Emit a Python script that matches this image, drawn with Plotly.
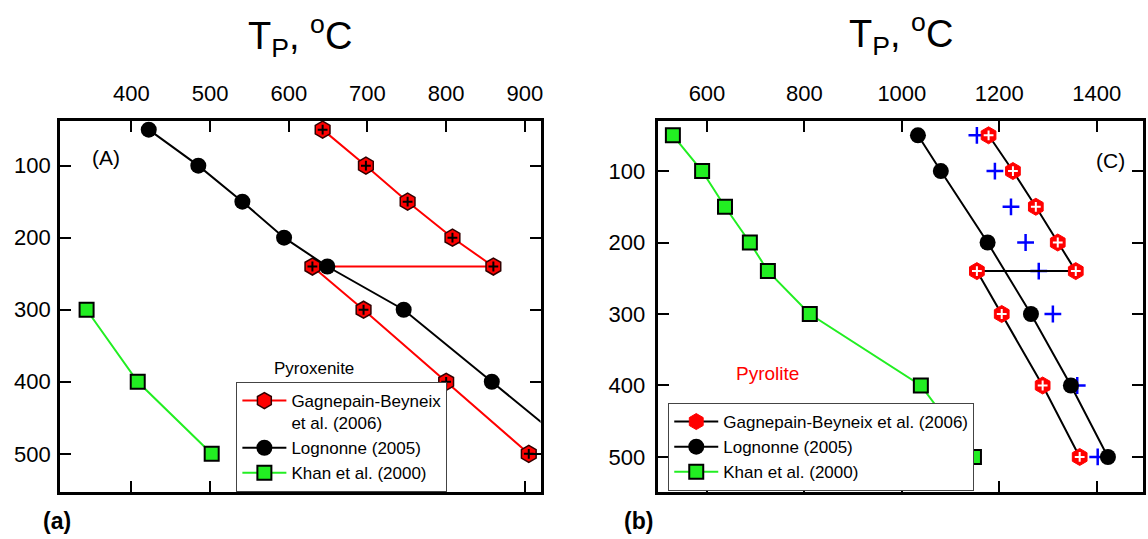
import plotly.graph_objects as go

# ---------------- data (panel a: Pyroxenite) ----------------
depth_gb_a = [50, 100, 150, 200, 240, 240, 300, 400, 500]
temp_gb_a = [643, 698, 751, 808, 860, 630, 695, 800, 905]
depth_lo_a = [50, 100, 150, 200, 240, 300, 400, 500]
temp_lo_a = [422, 485, 541, 594, 649, 746, 858, 970]
depth_kh_a = [300, 400, 500]
temp_kh_a = [343, 408, 502]

# ---------------- data (panel b: Pyrolite) ----------------
depth_gb_b = [50, 100, 150, 200, 240, 240, 300, 400, 500]
temp_gb_b = [1178, 1228, 1275, 1320, 1357, 1154, 1205, 1289, 1365]
depth_lo_b = [50, 100, 200, 300, 400, 500]
temp_lo_b = [1033, 1080, 1176, 1265, 1347, 1423]
depth_kh_b = [50, 100, 150, 200, 240, 300, 400, 500]
temp_kh_b = [530, 590, 637, 688, 725, 811, 1039, 1148]
depth_plus_b = [50, 100, 150, 200, 240, 300, 400, 500]
temp_plus_b = [1154, 1191, 1224, 1254, 1281, 1310, 1360, 1402]

xticks_a = [400, 500, 600, 700, 800, 900]
xticks_b = [600, 800, 1000, 1200, 1400]
yticks = [100, 200, 300, 400, 500]

name_gb_a = "Gagnepain-Beyneix<br>et al. (2006)"
name_gb_b = "Gagnepain-Beyneix et al. (2006)"
name_lo = "Lognonne (2005)"
name_kh = "Khan et al. (2000)"

RED = "#ff0000"
GREEN = "#22ee22"
FONT = "Arial, Liberation Sans, sans-serif"

W, H = 1148, 539
def px(x):
    return x / W
def py(y):
    return 1 - y / H

fig = go.Figure()

# ---- panel a ----
fig.add_trace(go.Scatter(
    x=temp_gb_a, y=depth_gb_a, mode="lines+markers", name=name_gb_a,
    line=dict(color=RED, width=2),
    marker=dict(symbol="hexagon", size=17, color=RED, line=dict(color="#300000", width=1.5)),
    xaxis="x", yaxis="y", legend="legend", legendrank=1))
fig.add_trace(go.Scatter(
    x=temp_gb_a, y=depth_gb_a, mode="markers", showlegend=False, hoverinfo="skip",
    marker=dict(symbol="cross-thin", size=7, color="black", line=dict(color="black", width=2)),
    xaxis="x", yaxis="y"))
fig.add_trace(go.Scatter(
    x=temp_lo_a, y=depth_lo_a, mode="lines+markers", name=name_lo,
    line=dict(color="black", width=2),
    marker=dict(symbol="circle", size=16, color="black"),
    xaxis="x", yaxis="y", legend="legend", legendrank=2))
fig.add_trace(go.Scatter(
    x=temp_kh_a, y=depth_kh_a, mode="lines+markers", name=name_kh,
    line=dict(color=GREEN, width=2),
    marker=dict(symbol="square", size=14, color=GREEN, line=dict(color="black", width=2)),
    xaxis="x", yaxis="y", legend="legend", legendrank=3))

# ---- panel b ----
fig.add_trace(go.Scatter(
    x=temp_kh_b, y=depth_kh_b, mode="lines+markers", name=name_kh,
    line=dict(color=GREEN, width=2),
    marker=dict(symbol="square", size=14, color=GREEN, line=dict(color="black", width=2)),
    xaxis="x2", yaxis="y2", legend="legend2", legendrank=3))
fig.add_trace(go.Scatter(
    x=temp_plus_b, y=depth_plus_b, mode="markers", showlegend=False, hoverinfo="skip",
    marker=dict(symbol="cross-thin", size=12, color="blue", line=dict(color="blue", width=2.5)),
    xaxis="x2", yaxis="y2"))
fig.add_trace(go.Scatter(
    x=temp_lo_b, y=depth_lo_b, mode="lines+markers", name=name_lo,
    line=dict(color="black", width=2),
    marker=dict(symbol="circle", size=16, color="black"),
    xaxis="x2", yaxis="y2", legend="legend2", legendrank=2))
fig.add_trace(go.Scatter(
    x=temp_gb_b, y=depth_gb_b, mode="lines+markers", name=name_gb_b,
    line=dict(color="black", width=2),
    marker=dict(symbol="hexagon", size=17, color=RED, line=dict(color=RED, width=1)),
    xaxis="x2", yaxis="y2", legend="legend2", legendrank=1))
fig.add_trace(go.Scatter(
    x=temp_gb_b, y=depth_gb_b, mode="markers", showlegend=False, hoverinfo="skip",
    marker=dict(symbol="cross-thin", size=7, color="white", line=dict(color="white", width=2)),
    xaxis="x2", yaxis="y2"))

axis_common = dict(
    showline=True, linewidth=2.5, linecolor="black", mirror="ticks",
    ticks="inside", ticklen=11, tickwidth=2, tickcolor="black",
    showgrid=False, zeroline=False,
    tickfont=dict(family=FONT, size=22, color="black"),
)

ydom = [py(492), py(121)]
legend_common = dict(
    xanchor="left", yanchor="top",
    bgcolor="white", bordercolor="#444444", borderwidth=1,
    font=dict(family=FONT, size=17, color="black"),
    itemwidth=44, valign="top", tracegroupgap=0, traceorder="normal",
)
fig.update_layout(
    width=W, height=H, autosize=False,
    margin=dict(l=0, r=0, t=0, b=0),
    paper_bgcolor="white", plot_bgcolor="white",
    font=dict(family=FONT, color="black"),
    xaxis=dict(domain=[px(60), px(542)], range=[309, 920], side="top",
               tickvals=xticks_a, anchor="y", ticklabelstandoff=8, **axis_common),
    yaxis=dict(domain=ydom, range=[553, 38], tickvals=yticks, anchor="x",
               ticklabelstandoff=2, **axis_common),
    xaxis2=dict(domain=[px(660), px(1146)], range=[500, 1495], side="top",
                tickvals=xticks_b, anchor="y2", ticklabelstandoff=8, **axis_common),
    yaxis2=dict(domain=ydom, range=[549, 30], tickvals=yticks, anchor="x2",
                ticklabelstandoff=6, **axis_common),
    legend=dict(x=px(237), y=py(382), **legend_common),
    legend2=dict(x=px(670), y=py(403), **legend_common),
    showlegend=True,
)

title_txt = "T<sub>P</sub>, <sup>o</sup>C"
def ann(text, x, y, size, color="black", yanchor="middle"):
    return dict(text=text, x=px(x), y=py(y), xref="paper", yref="paper",
                xanchor="center", yanchor=yanchor, showarrow=False,
                font=dict(family=FONT, size=size, color=color))

annotations = [
    ann(title_txt, 301, 7, 38, yanchor="top"),
    ann(title_txt, 903, 5, 38, yanchor="top"),
    ann("(A)", 106, 157, 21),
    ann("(C)", 1113, 160, 21),
    ann("Pyroxenite", 315, 368, 17),
    ann("Pyrolite", 770, 373, 19, RED),
    ann("<b>(a)</b>", 57, 521, 23),
    ann("<b>(b)</b>", 640, 521, 23),
]
fig.update_layout(annotations=annotations)

fig.write_html("out.html")
